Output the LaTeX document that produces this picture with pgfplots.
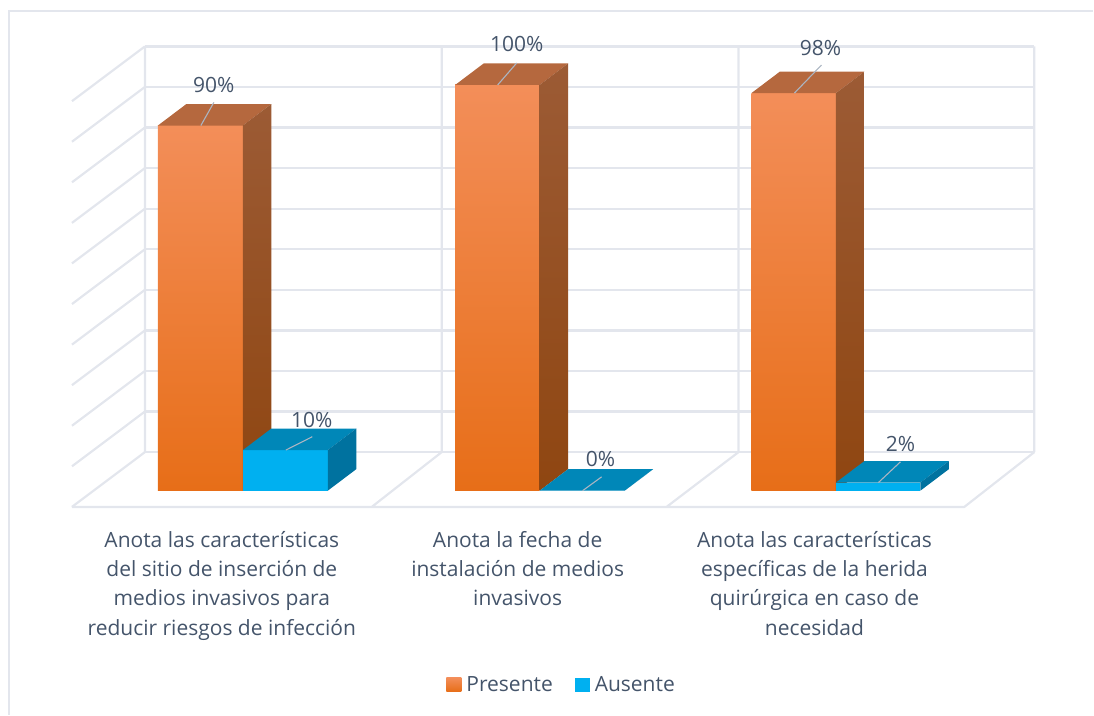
\documentclass[border=0pt]{standalone}
\usepackage{pgfplots}
\pgfplotsset{compat=1.18}
\usepackage{fontspec}
\setmainfont{Open Sans}
\definecolor{gridc}{HTML}{E3E6ED}
\definecolor{txt}{HTML}{44546A}
\definecolor{leader}{HTML}{ABB5C2}
\definecolor{orTop}{HTML}{F38E59}
\definecolor{orBot}{HTML}{E76E18}
\definecolor{orMid}{HTML}{F87D20}
\definecolor{orRoof}{HTML}{B5683E}
\definecolor{orSideT}{HTML}{9C5B35}
\definecolor{orSideB}{HTML}{8F4611}
\definecolor{blFront}{HTML}{00B0F0}
\definecolor{blRoof}{HTML}{0087B8}
\definecolor{blSide}{HTML}{00729F}
% x0, x1, x0 + depth, x1 + depth, value, value + depth
\newcommand{\orangebar}[6]{%
  \addplot[forget plot,draw=none,top color=orTop,middle color=orMid,bottom color=orBot] coordinates {(#1,0) (#2,0) (#2,#5) (#1,#5)} --cycle;
  \addplot[forget plot,draw=none,fill=orRoof] coordinates {(#1,#5) (#2,#5) (#4,#6) (#3,#6)} --cycle;
  \addplot[forget plot,draw=none,top color=orSideT,bottom color=orSideB] coordinates {(#2,0) (#4,5.3) (#4,#6) (#2,#5)} --cycle;
}
\newcommand{\bluebar}[6]{%
  \addplot[forget plot,draw=none,fill=blFront] coordinates {(#1,0) (#2,0) (#2,#5) (#1,#5)} --cycle;
  \addplot[forget plot,draw=none,fill=blRoof] coordinates {(#1,#5) (#2,#5) (#4,#6) (#3,#6)} --cycle;
  \addplot[forget plot,draw=none,fill=blSide] coordinates {(#2,0) (#4,5.3) (#4,#6) (#2,#5)} --cycle;
}
\newcommand{\vallabel}[7]{%
  \addplot[forget plot,leader,line width=1.1pt] coordinates {(#1,#2) (#3,#4)};
  \node[text=txt,font=\fontsize{21}{24}\selectfont] at (axis cs:#5,#6) {#7};
}
\begin{document}
\begin{tikzpicture}
\begin{axis}[
  scale only axis, width=1094pt, height=715pt,
  xmin=0, xmax=1094, ymin=-55.17, ymax=120.94,
  clip=false, unbounded coords=jump,
  axis line style={draw=none}, tick style={draw=none},
  ytick=\empty,
  xtick={222,518,815},
  xticklabels={
    {Anota las características\\del sitio de inserción de\\medios invasivos para\\reducir riesgos de infección},
    {Anota la fecha de\\instalación de medios\\invasivos},
    {Anota las características\\específicas de la herida\\quirúrgica en caso de\\necesidad}},
  xticklabel style={align=center,text=txt,anchor=north,yshift=187pt,
    font=\fontsize{21}{29.3}\selectfont},
  legend columns=2,
  legend style={at={(axis cs:562,-47.8)},anchor=center,draw=none,fill=none,
    font=\fontsize{21}{24}\selectfont,text=txt,inner sep=0pt,
    /tikz/every odd column/.append style={column sep=3pt},
    /tikz/every even column/.append style={column sep=20pt}},
]
% chart frame
\addplot[forget plot,gridc,line width=1.5pt] coordinates {(9,-55.17) (9,118.2) (1094,118.2)};
% back wall gridlines
\addplot[forget plot,gridc,line width=2.2pt] coordinates {
 (145,9.5) (1035,9.5) (0,nan) (145,19.5) (1035,19.5) (0,nan) (145,29.5) (1035,29.5) (0,nan)
 (145,39.5) (1035,39.5) (0,nan) (145,49.5) (1035,49.5) (0,nan) (145,59.5) (1035,59.5) (0,nan)
 (145,69.5) (1035,69.5) (0,nan) (145,79.5) (1035,79.5) (0,nan) (145,89.5) (1035,89.5) (0,nan)
 (145,99.5) (1035,99.5) (0,nan) (145,109.5) (1035,109.5)};
% side wall gridlines
\addplot[forget plot,gridc,line width=2.2pt] coordinates {
 (72,-4) (145,9.5) (0,nan) (72,6) (145,19.5) (0,nan) (72,16) (145,29.5) (0,nan)
 (72,26) (145,39.5) (0,nan) (72,36) (145,49.5) (0,nan) (72,46) (145,59.5) (0,nan)
 (72,56) (145,69.5) (0,nan) (72,66) (145,79.5) (0,nan) (72,76) (145,89.5) (0,nan)
 (72,86) (145,99.5) (0,nan) (72,96) (145,109.5)};
% verticals and floor
\addplot[forget plot,gridc,line width=2.2pt] coordinates {
 (145,9.5) (145,109.5) (0,nan) (442,9.5) (442,109.5) (0,nan) (739,9.5) (739,109.5) (0,nan) (1035,9.5) (1035,109.5) (0,nan)
 (72,-4) (965,-4) (1035,9.5) (0,nan) (372,-4) (442,9.5) (0,nan) (667,-4) (739,9.5)};
% bars
\orangebar{158}{243}{186.5}{271.5}{90}{95.3}
\bluebar{243}{328}{271.5}{356.5}{10}{15.3}
\orangebar{455.5}{540}{484}{568.5}{100}{105.3}
\bluebar{540}{625}{568.5}{653.5}{0}{5.3}
\orangebar{752}{836.5}{780.5}{865}{98}{103.3}
\bluebar{836.5}{921}{865}{949.5}{2}{7.3}
% data labels
\vallabel{201}{90}{214}{95.7}{214}{100}{90\%}
\vallabel{498}{100}{517}{105.4}{517}{110}{100\%}
\vallabel{795}{98}{822}{104.9}{821}{109.1}{98\%}
\vallabel{286}{10}{312.5}{13.3}{312}{17.5}{10\%}
\vallabel{583}{0}{602}{3.4}{601}{7.8}{0\%}
\vallabel{879}{2}{901}{7.1}{901}{11.5}{2\%}
% legend
\addlegendimage{legend image code/.code={\path[top color=orTop,bottom color=orBot,draw=none] (0pt,-7pt) rectangle (15pt,7pt);}}
\addlegendentry{Presente}
\addlegendimage{legend image code/.code={\path[fill=blFront,draw=none] (0pt,-7pt) rectangle (15pt,7pt);}}
\addlegendentry{Ausente}
\end{axis}
\end{tikzpicture}
\end{document}
